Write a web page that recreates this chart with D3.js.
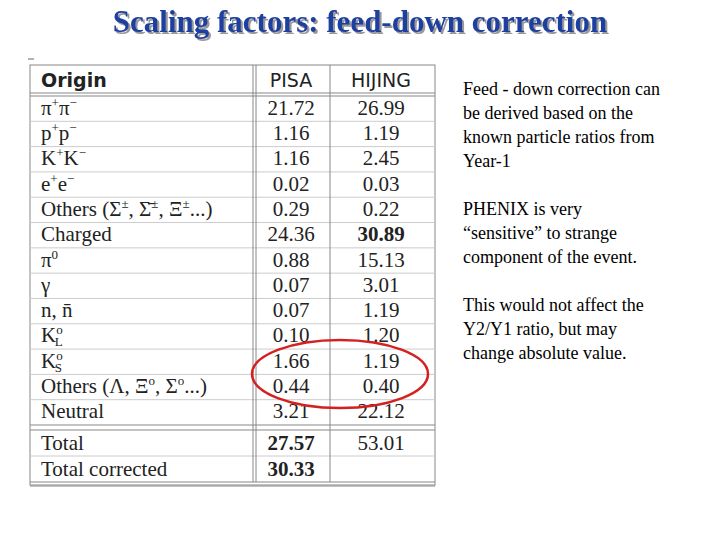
<!DOCTYPE html>
<html><head><meta charset="utf-8">
<script src="https://cdn.jsdelivr.net/npm/d3@7"></script>
<style>body{margin:0;background:#fff}</style>
</head><body>
<svg id="chart" width="720" height="540"></svg>
<script>
// table data
let origins = ["π^{+}π^{−}", "p^{+}p^{−}", "K^{+}K^{−}", "e^{+}e^{−}", "Others (Σ^{±}, Σ̄^{±}, Ξ^{±}...)", "Charged",
  "π^{0}", "γ", "n, n̄", "K^{o}_{L}", "K^{o}_{S}", "Others (Λ, Ξ^{o}, Σ^{o}...)", "Neutral"];
let pisa = ["21.72", "1.16", "1.16", "0.02", "0.29", "24.36", "0.88", "0.07", "0.07", "0.10", "1.66", "0.44", "3.21"];
let hijing = ["26.99", "1.19", "2.45", "0.03", "0.22", "30.89", "15.13", "3.01", "1.19", "1.20", "1.19", "0.40", "22.12"];
let totalLabels = ["Total", "Total corrected"];
let totalPisa = ["27.57", "30.33"];
let totalHijing = ["53.01", ""];
let notes = [
  ["Feed - down correction can", "be derived based on the", "known particle ratios from", " Year-1"],
  ["PHENIX is very", "“sensitive” to strange", "component of the event."],
  ["This would not affect the", "Y2/Y1 ratio, but may", "change absolute value."]
];

let svg = d3.select("#chart");
let font = "Liberation Serif, serif";

// title with soft shadow
let defs = svg.append("defs");
defs.append("filter").attr("id", "shadow").append("feDropShadow")
  .attr("dx", 2).attr("dy", 2).attr("stdDeviation", 0.6).attr("flood-color", "#999");
svg.append("text").attr("x", 360).attr("y", 32).attr("text-anchor", "middle")
  .attr("font-family", font).attr("font-weight", "bold").attr("font-size", 31)
  .attr("fill", "#1f3f9f").attr("filter", "url(#shadow)").text("Scaling factors: feed-down correction");

let left = 30, right = 435;
let x = d3.scaleOrdinal().domain(["o", "p", "h"]).range([41, 291, 381]);
let y = d3.scaleBand().domain(d3.range(origins.length)).range([96, 425]);
let yT = d3.scaleBand().domain(d3.range(totalLabels.length)).range([430, 482]);

let g = svg.append("g").attr("font-family", font).attr("font-size", 21).attr("fill", "#222");

function label(sel, s) {
  let parts = s.split(/(\^\{[^}]*\}|_\{[^}]*\})/).filter(p => p);
  let shift = 0, lastSup = 0;
  parts.forEach(p => {
    let t = sel.append("tspan");
    if (p[0] === "^" || p[0] === "_") {
      let dy = p[0] === "^" ? -8 : 4;
      t.attr("font-size", 13).attr("dy", dy - shift).text(p.slice(2, -1));
      if (p[0] === "_" && lastSup) t.attr("dx", -lastSup);
      lastSup = p[0] === "^" ? 8 : 0;
      shift = dy;
    } else {
      t.attr("dy", -shift).text(p);
      shift = 0; lastSup = 0;
    }
  });
}

// frame and lines
let lines = svg.append("g").attr("stroke", "#888").attr("fill", "none");
lines.append("rect").attr("x", left).attr("y", 65).attr("width", right - left).attr("height", 420);
[93, 96, 425, 430, 482, 486].forEach(v =>
  lines.append("line").attr("x1", left).attr("x2", right).attr("y1", v).attr("y2", v).attr("stroke-width", 1.2));
d3.range(1, origins.length).forEach(i =>
  lines.append("line").attr("x1", left).attr("x2", right).attr("y1", y(i)).attr("y2", y(i)).attr("stroke", "#ccc"));
lines.append("line").attr("x1", left).attr("x2", right).attr("y1", yT(1)).attr("y2", yT(1)).attr("stroke", "#ccc");
[253, 256, 330].forEach(v =>
  lines.append("line").attr("x1", v).attr("x2", v).attr("y1", 65).attr("y2", 482));
svg.append("line").attr("x1", 28).attr("x2", 34).attr("y1", 59).attr("y2", 59).attr("stroke", "#666");

// header
let hf = "DejaVu Sans, sans-serif";
g.append("text").attr("x", x("o")).attr("y", 87).attr("font-weight", "bold").attr("font-family", hf).attr("font-size", 19).text("Origin");
g.append("text").attr("x", x("p")).attr("y", 87).attr("text-anchor", "middle").attr("font-family", hf).attr("font-size", 19).text("PISA");
g.append("text").attr("x", x("h")).attr("y", 87).attr("text-anchor", "middle").attr("font-family", hf).attr("font-size", 19).text("HIJING");

// rows
origins.forEach((o, i) => {
  let cy = y(i) + y.bandwidth() / 2 + 6;
  label(g.append("text").attr("x", x("o")).attr("y", cy), o);
  g.append("text").attr("x", x("p")).attr("y", cy).attr("text-anchor", "middle").text(pisa[i]);
  g.append("text").attr("x", x("h")).attr("y", cy).attr("text-anchor", "middle")
    .attr("font-weight", i === 5 ? "bold" : null).text(hijing[i]);
});
totalLabels.forEach((o, i) => {
  let cy = yT(i) + yT.bandwidth() / 2 + 7;
  g.append("text").attr("x", x("o")).attr("y", cy).text(o);
  g.append("text").attr("x", x("p")).attr("y", cy).attr("text-anchor", "middle").attr("font-weight", "bold").text(totalPisa[i]);
  g.append("text").attr("x", x("h")).attr("y", cy).attr("text-anchor", "middle").text(totalHijing[i]);
});

// red ellipse
svg.append("ellipse").attr("cx", 340).attr("cy", 374).attr("rx", 88).attr("ry", 34)
  .attr("fill", "none").attr("stroke", "#d42020").attr("stroke-width", 2.5);

// notes
let ny = [95, 215, 311];
notes.forEach((block, b) => {
  block.forEach((line, i) => {
    svg.append("text").attr("x", 463).attr("y", ny[b] + i * 24)
      .attr("font-family", font).attr("font-size", 18).attr("fill", "#000").text(line);
  });
});
</script>
</body></html>
